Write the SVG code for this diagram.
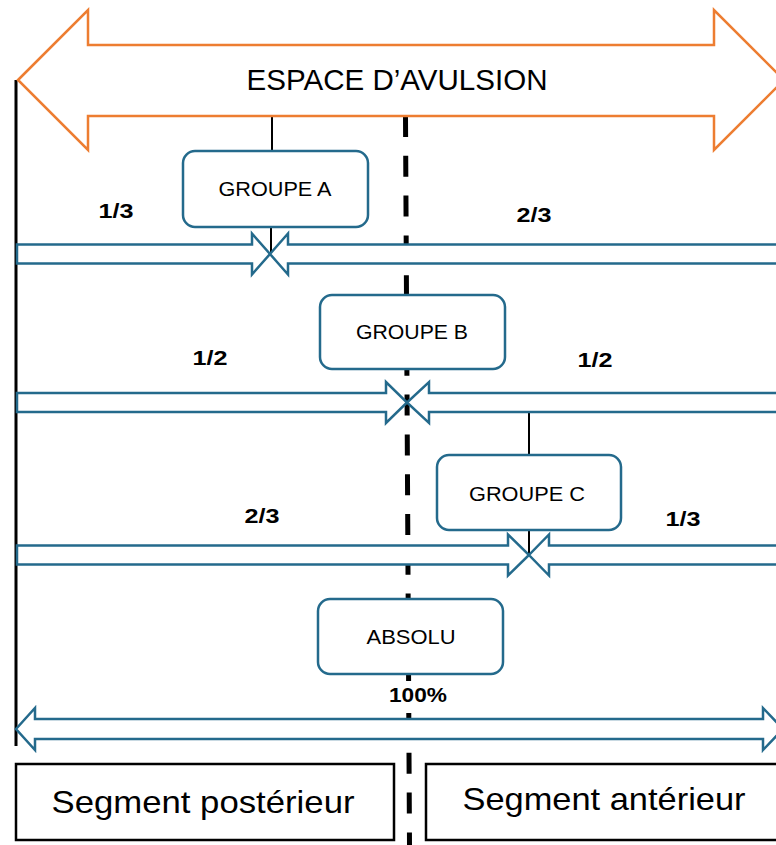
<svg xmlns="http://www.w3.org/2000/svg" width="776" height="845" viewBox="0 0 776 845">
<style>
.blue{fill:#fff;stroke:#246a8c;stroke-width:2.5;stroke-linejoin:miter}
.box{fill:#fff;stroke:#246a8c;stroke-width:2.5}
.seg{fill:#fff;stroke:#000;stroke-width:2.5}
.lbl{font-family:"Liberation Sans",Arial,sans-serif;fill:#000;text-anchor:middle}
.g{font-size:21px}
.f{font-size:20px;font-weight:bold}
.s{font-size:32px}
.conn{stroke:#000;stroke-width:2;fill:none}
</style>
<rect width="776" height="845" fill="#fff"/>
<g id="connectors">
<line x1="405.5" y1="116" x2="409.5" y2="845" stroke="#000" stroke-width="5" stroke-dasharray="21 18.8"/>
<line x1="16" y1="80" x2="16" y2="746" stroke="#000" stroke-width="3"/>
<line class="conn" x1="272" y1="116" x2="272" y2="151"/>
<line class="conn" x1="271" y1="227" x2="271" y2="254"/>
<line class="conn" x1="529" y1="413" x2="529" y2="455"/>
<line class="conn" x1="529" y1="530" x2="529" y2="555"/>
</g>
<g id="espace">
<polygon points="18,80 88,10 88,45 714,45 714,10 784,80 714,150 714,116 88,116 88,150" fill="#fff" stroke="#ED7D31" stroke-width="2.5"/>
<text class="lbl" x="397" y="90" font-size="29" textLength="301" lengthAdjust="spacingAndGlyphs">ESPACE D’AVULSION</text>
</g>
<g id="arrows-a">
<path class="blue" d="M17,244.5 L252,244.5 L252,233.5 L270,254 L252,274.5 L252,263.5 L17,263.5 Z"/>
<path class="blue" d="M782,244.5 L288,244.5 L288,233.5 L270,254 L288,274.5 L288,263.5 L782,263.5 Z"/>
</g>
<g id="arrows-b">
<path class="blue" d="M17,393 L386,393 L386,382 L407,402.5 L386,423 L386,412 L17,412 Z"/>
<path class="blue" d="M782,393 L429,393 L429,382 L407,402.5 L429,423 L429,412 L782,412 Z"/>
</g>
<g id="arrows-c">
<path class="blue" d="M17,545.5 L508,545.5 L508,534.5 L529,555 L508,575.5 L508,564.5 L17,564.5 Z"/>
<path class="blue" d="M782,545.5 L549,545.5 L549,534.5 L529,555 L549,575.5 L549,564.5 L782,564.5 Z"/>
</g>
<g id="arrow-absolu">
<path class="blue" d="M16,729 L35,708 L35,719 L763,719 L763,708 L783,729 L763,750 L763,739 L35,739 L35,750 Z"/>
</g>
<g id="groupe-a">
<rect class="box" x="183" y="151" width="185" height="76" rx="12"/>
<text class="lbl g" x="275" y="196" textLength="113" lengthAdjust="spacingAndGlyphs">GROUPE A</text>
</g>
<g id="groupe-b">
<rect class="box" x="320" y="295" width="185" height="74" rx="12"/>
<text class="lbl g" x="412" y="339" textLength="112" lengthAdjust="spacingAndGlyphs">GROUPE B</text>
</g>
<g id="groupe-c">
<rect class="box" x="437" y="455" width="184" height="75" rx="12"/>
<text class="lbl g" x="527" y="501" textLength="116" lengthAdjust="spacingAndGlyphs">GROUPE C</text>
</g>
<g id="absolu">
<rect class="box" x="318" y="599" width="185" height="75" rx="12"/>
<text class="lbl g" x="411" y="644" textLength="89" lengthAdjust="spacingAndGlyphs">ABSOLU</text>
</g>
<g id="fractions">
<text class="lbl f" x="116" y="218" textLength="35" lengthAdjust="spacingAndGlyphs">1/3</text>
<text class="lbl f" x="534" y="222" textLength="35" lengthAdjust="spacingAndGlyphs">2/3</text>
<text class="lbl f" x="210" y="365" textLength="35" lengthAdjust="spacingAndGlyphs">1/2</text>
<text class="lbl f" x="595" y="367" textLength="35" lengthAdjust="spacingAndGlyphs">1/2</text>
<text class="lbl f" x="262" y="523" textLength="35" lengthAdjust="spacingAndGlyphs">2/3</text>
<text class="lbl f" x="683" y="526" textLength="35" lengthAdjust="spacingAndGlyphs">1/3</text>
<rect x="384" y="681" width="68" height="30" fill="#fff"/>
<text class="lbl f" x="418" y="702" textLength="58" lengthAdjust="spacingAndGlyphs">100%</text>
</g>
<g id="segment-posterieur">
<rect class="seg" x="16" y="764" width="378" height="76"/>
<text class="lbl s" x="203" y="813" textLength="303" lengthAdjust="spacingAndGlyphs">Segment postérieur</text>
</g>
<g id="segment-anterieur">
<rect class="seg" x="426" y="764" width="356" height="76"/>
<text class="lbl s" x="604" y="810" textLength="283" lengthAdjust="spacingAndGlyphs">Segment antérieur</text>
</g>
</svg>
